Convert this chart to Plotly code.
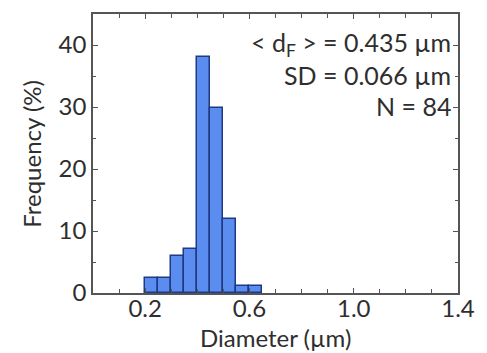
import plotly.graph_objects as go

# Histogram of particle diameters (µm), bin width 0.05
bin_left = [0.20, 0.25, 0.30, 0.35, 0.40, 0.45, 0.50, 0.55, 0.60]
counts = [2, 2, 5, 6, 32, 25, 10, 1, 1]
bin_width = 0.05
n_total = 84

freq_pct = [100.0 * c / n_total for c in counts]
centers = [b + bin_width / 2 for b in bin_left]

x_tickvals = [0.2, 0.6, 1.0, 1.4]
x_ticktext = ["0.2", "0.6", "1.0", "1.4"]
y_tickvals = [0, 10, 20, 30, 40]

x_title = "Diameter (µm)"
y_title = "Frequency (%)"
stats_lines = [
    "&lt; d<sub>F</sub> &gt; = 0.435 µm",
    "SD = 0.066 µm",
    "N = 84",
]

FONT = "Lato, Open Sans, sans-serif"
FS = 25
FS_TICK = 24
FS_TITLE = 24
TXT = "#2e2e2e"
AX = "#555555"

fig = go.Figure(
    go.Bar(
        x=centers,
        y=freq_pct,
        width=bin_width,
        marker=dict(color="#5b8cf0", line=dict(color="#1f3a85", width=1.5)),
    )
)

axis_common = dict(
    showline=True,
    linecolor=AX,
    linewidth=1.5,
    mirror="allticks",
    ticks="inside",
    ticklen=5,
    tickwidth=1.2,
    tickcolor=AX,
    showgrid=False,
    zeroline=False,
    tickfont=dict(family=FONT, size=FS_TICK, color=TXT),
)

fig.update_xaxes(
    range=[0, 1.4],
    tickvals=x_tickvals,
    ticktext=x_ticktext,
    ticklabelstandoff=-7,
    minor=dict(dtick=0.1, ticks="inside", ticklen=4, tickwidth=1.2, tickcolor=AX),
    **axis_common,
)
fig.update_yaxes(
    range=[0, 45],
    tickvals=y_tickvals,
    minor=dict(dtick=5, ticks="inside", ticklen=3, tickcolor=AX),
    **axis_common,
)

# axis titles placed as paper-anchored labels for tighter spacing
fig.add_annotation(
    xref="paper", yref="paper", x=0.5, y=-0.16,
    xanchor="center", yanchor="middle", showarrow=False,
    text=x_title, font=dict(family=FONT, size=FS_TITLE, color=TXT),
)
fig.add_annotation(
    xref="paper", yref="paper", x=-0.169, y=0.5,
    xanchor="center", yanchor="middle", showarrow=False, textangle=-90,
    text=y_title, font=dict(family=FONT, size=FS_TITLE, color=TXT),
)

for i, line in enumerate(stats_lines):
    fig.add_annotation(
        xref="paper", yref="paper",
        x=0.985, y=0.892 - i * 0.111,
        xanchor="right", yanchor="middle",
        text=line, showarrow=False,
        font=dict(family=FONT, size=FS, color=TXT),
    )

fig.update_layout(
    width=487,
    height=353,
    margin=dict(l=93, r=22, t=14, b=60),
    plot_bgcolor="white",
    paper_bgcolor="white",
    showlegend=False,
    bargap=0,
)

fig.write_html("out.html")
